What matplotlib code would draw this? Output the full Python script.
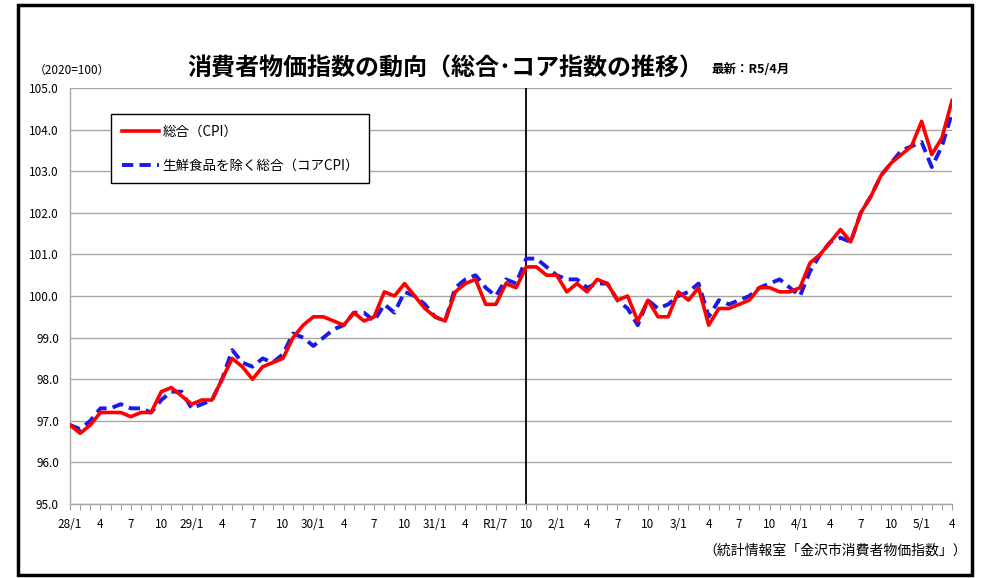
import matplotlib
matplotlib.use("Agg")

import matplotlib.pyplot as plt
from matplotlib.patches import Rectangle

# -----------------------------
# Fonts
# -----------------------------

plt.rcParams["font.family"] = ["Noto Sans CJK JP", "DejaVu Sans"]

# -----------------------------
# Data (2016/1 - 2023/4, monthly)
# -----------------------------

cpi = [
    96.9, 96.7, 96.9, 97.2, 97.2, 97.2, 97.1, 97.2, 97.2, 97.7, 97.8, 97.6,
    97.4, 97.5, 97.5, 98.0, 98.5, 98.3, 98.0, 98.3, 98.4, 98.5, 99.0, 99.3,
    99.5, 99.5, 99.4, 99.3, 99.6, 99.4, 99.5, 100.1, 100.0, 100.3, 100.0, 99.7,
    99.5, 99.4, 100.1, 100.3, 100.4, 99.8, 99.8, 100.3, 100.2, 100.7, 100.7, 100.5,
    100.5, 100.1, 100.3, 100.1, 100.4, 100.3, 99.9, 100.0, 99.4, 99.9, 99.5, 99.5,
    100.1, 99.9, 100.2, 99.3, 99.7, 99.7, 99.8, 99.9, 100.2, 100.2, 100.1, 100.1,
    100.2, 100.8, 101.0, 101.3, 101.6, 101.3, 102.0, 102.4, 102.9, 103.2, 103.4, 103.6,
    104.2, 103.4, 103.8, 104.7,
]

core_cpi = [
    96.9, 96.8, 97.0, 97.3, 97.3, 97.4, 97.3, 97.3, 97.2, 97.5, 97.7, 97.7,
    97.3, 97.4, 97.5, 98.0, 98.7, 98.4, 98.3, 98.5, 98.4, 98.6, 99.1, 99.0,
    98.8, 99.0, 99.2, 99.3, 99.6, 99.6, 99.4, 99.8, 99.6, 100.1, 100.0, 99.8,
    99.5, 99.4, 100.2, 100.4, 100.5, 100.2, 100.0, 100.4, 100.3, 100.9, 100.9, 100.7,
    100.5, 100.4, 100.4, 100.2, 100.3, 100.3, 99.9, 99.7, 99.3, 99.9, 99.7, 99.8,
    100.0, 100.1, 100.3, 99.5, 99.9, 99.8, 99.9, 100.0, 100.2, 100.3, 100.4, 100.2,
    100.0, 100.6, 101.0, 101.3, 101.4, 101.3, 102.0, 102.4, 102.9, 103.2, 103.5, 103.6,
    103.7, 103.1, 103.6, 104.4,
]

tick_labels = [
    "28/1", "4", "7", "10", "29/1", "4", "7", "10", "30/1", "4", "7", "10",
    "31/1", "4", "R1/7", "10", "2/1", "4", "7", "10", "3/1", "4", "7", "10",
    "4/1", "4", "7", "10", "5/1", "4",
]

marker_month = 45  # R1/10

months = list(range(len(cpi)))

# -----------------------------
# Figure
# -----------------------------

fig = plt.figure(figsize=(9.82, 5.78), dpi=100)

ax = fig.add_axes([0.0713, 0.128, 0.8982, 0.7197])

ax.plot(
    months,
    cpi,
    color="#ff0000",
    linewidth=2.6,
    label="総合（CPI）",
    zorder=4,
)

ax.plot(
    months,
    core_cpi,
    color="#1a1ae6",
    linewidth=2.8,
    linestyle=(0, (2.9, 1.6)),
    label="生鮮食品を除く総合（コアCPI）",
    zorder=3,
)

ax.axvline(marker_month, color="black", linewidth=1.3, zorder=2)

# -----------------------------
# Axes styling
# -----------------------------

ax.set_xlim(0, len(cpi) - 1)
ax.set_ylim(95, 105)

ax.set_yticks([95 + i for i in range(11)])
ax.set_yticklabels([f"{95 + i:.1f}" for i in range(11)], fontsize=8.5)
ax.tick_params(axis="y", length=0, pad=8)

all_ticks = list(range(len(cpi)))
ax.set_xticks(all_ticks)
ax.set_xticklabels(
    [tick_labels[i // 3] if i % 3 == 0 else "" for i in all_ticks],
    fontsize=8.5,
)
ax.tick_params(axis="x", length=4, width=0.8, color="#a0a0a0", pad=6)

ax.grid(axis="y", color="#a6a6a6", linewidth=1.0)
ax.set_axisbelow(True)

for side in ["top", "right"]:
    ax.spines[side].set_visible(False)

for side in ["left", "bottom"]:
    ax.spines[side].set_color("#a6a6a6")
    ax.spines[side].set_linewidth(1.0)

legend = ax.legend(
    loc="upper left",
    bbox_to_anchor=(0.047, 0.937),
    fontsize=9.7,
    handlelength=2.8,
    handletextpad=0.25,
    labelspacing=1.5,
    borderpad=0.75,
    borderaxespad=0,
    fancybox=False,
    framealpha=1,
    edgecolor="black",
)
legend.get_frame().set_linewidth(1.0)

# -----------------------------
# Texts
# -----------------------------

fig.text(
    0.454, 0.882,
    "消費者物価指数の動向（総合･コア指数の推移）",
    fontsize=17.3,
    fontweight="bold",
    ha="center",
    va="center",
)

fig.text(
    0.725, 0.879,
    "最新：R5/4月",
    fontsize=9,
    fontweight="bold",
    ha="left",
    va="center",
)

fig.text(
    0.034, 0.878,
    "（2020=100）",
    fontsize=8.5,
    ha="left",
    va="center",
)

fig.text(
    0.985, 0.047,
    "（統計情報室「金沢市消費者物価指数」）",
    fontsize=10,
    ha="right",
    va="center",
)

# -----------------------------
# Outer frame
# -----------------------------

fig.patches.append(
    Rectangle(
        (0.0183, 0.005),
        0.9715,
        0.986,
        transform=fig.transFigure,
        fill=False,
        edgecolor="black",
        linewidth=2.5,
    )
)

plt.savefig("out.png", dpi=100)

plt.close()
